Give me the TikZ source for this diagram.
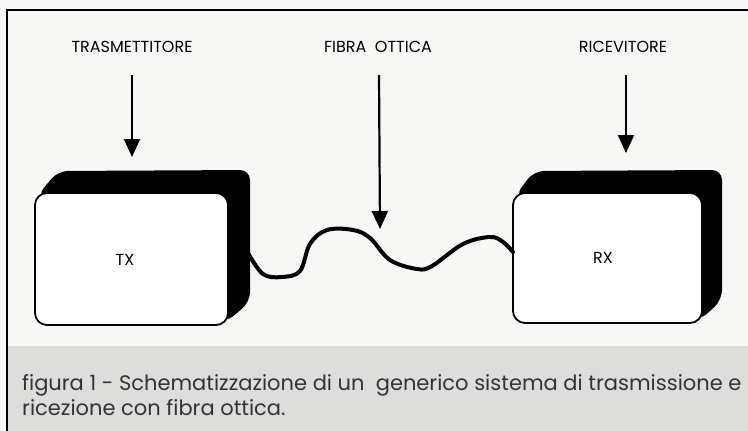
\documentclass[tikz,border=0pt]{standalone}
\usepackage{fontspec}
\setmainfont{Poppins}
\usetikzlibrary{arrows.meta}
\definecolor{paper}{HTML}{F7F7F5}
\definecolor{band}{HTML}{DDDDDB}
\tikzset{
  lbl/.style={font=\fontsize{16}{18}\selectfont, inner sep=0pt},
  boxlbl/.style={font=\fontsize{16}{18}\selectfont, inner sep=0pt},
  captxt/.style={font=\fontsize{21}{25}\selectfont, inner sep=0pt, anchor=base west, text=black!80},
  pointer/.style={line width=2.2pt, -{Triangle[length=18pt,width=16pt]}},
  fiber/.style={line width=4pt, line cap=round, line join=round},
  framel/.style={line width=2pt},
}
\newcommand{\threedbox}[6]{% x0 y0 x1 y1 dx dy
  \fill[black, rounded corners=10pt] (#1+2,#2+3) -- (#1+#5+1,#2-#6+1) -- (#3+#5,#2-#6) -- (#3+#5,#4-#6) -- (#3-3,#4-2) -- cycle;
  \draw[fill=white, line width=1.8pt, rounded corners=12pt] (#1,#2) rectangle (#3,#4);
}
\begin{document}
\begin{tikzpicture}[x=1pt,y=-1pt]
\useasboundingbox (0,0) rectangle (748,431);
\fill[paper] (0,0) rectangle (748,431);
\fill[band] (8,346) rectangle (748,431);
\draw[framel] (7,431) -- (7,10) -- (748,10);

% boxes
\threedbox{35}{193}{228}{325}{22}{23}
\threedbox{513}{193}{702}{323}{20}{23}
\node[boxlbl] (tx) at (125,260) {TX};
\node[boxlbl] (rx) at (603,258) {RX};

% labels and pointers
\node[lbl] (ltx) at (132,47) {TRASMETTITORE};
\node[lbl] (lfo) at (378,47) {FIBRA\ \ OTTICA};
\node[lbl] (lrx) at (623,47) {RICEVITORE};
\coordinate (ttx) at (132,157);
\coordinate (tfo) at (380,229);
\coordinate (trx) at (626,153);
\draw[pointer] (132,75) -- (ttx);
\draw[pointer] (379,75) -- (tfo);
\draw[pointer] (626,75) -- (trx);

% fiber
\coordinate (txport) at (248,253);
\coordinate (rxport) at (513,252);
\draw[fiber] plot[smooth, tension=0.6] coordinates {(txport) (263,274) (282,277) (300,271) (310,244) (327,230) (353,230) (370,238) (390,260) (417,269) (432,266) (463,244) (490,237) (503,242) (rxport)};

% caption
\node[captxt] (c1) at (22,390) {figura 1 - Schematizzazione di un\ \ generico sistema di trasmissione e};
\node[captxt] (c2) at (22,415) {ricezione con fibra ottica.};
\end{tikzpicture}
\end{document}
